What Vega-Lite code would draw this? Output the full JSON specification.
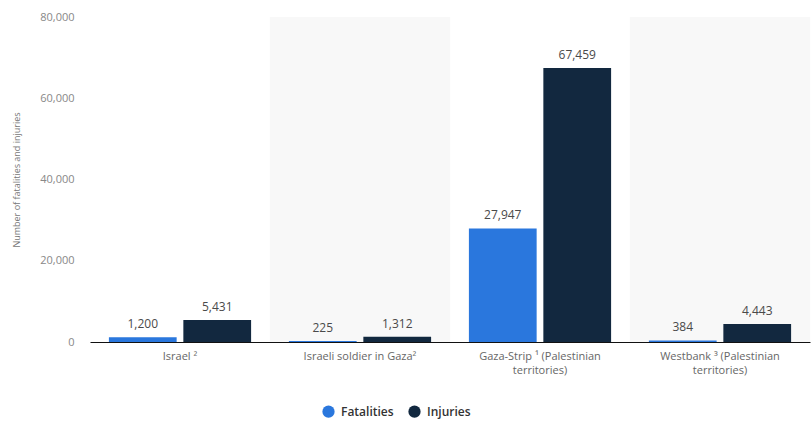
{
  "$schema": "https://vega.github.io/schema/vega-lite/v6.json",
  "description": "Fatalities and injuries by region, grouped bars with alternating column shading",
  "autosize": {"type": "none"},
  "width": 720,
  "height": 325,
  "padding": {"left": 90, "top": 17, "right": 2, "bottom": 79},
  "background": "#ffffff",
  "config": {
    "font": "Open Sans",
    "view": {"stroke": null}
  },
  "datasets": {
    "stats": [
      {"region": "Israel", "type": "Fatalities", "count": 1200},
      {"region": "Israel", "type": "Injuries", "count": 5431},
      {"region": "Soldiers", "type": "Fatalities", "count": 225},
      {"region": "Soldiers", "type": "Injuries", "count": 1312},
      {"region": "Gaza", "type": "Fatalities", "count": 27947},
      {"region": "Gaza", "type": "Injuries", "count": 67459},
      {"region": "Westbank", "type": "Fatalities", "count": 384},
      {"region": "Westbank", "type": "Injuries", "count": 4443}
    ],
    "shaded": [
      {"region": "Soldiers"},
      {"region": "Westbank"}
    ]
  },
  "encoding": {
    "x": {
      "field": "region",
      "type": "nominal",
      "sort": ["Israel", "Soldiers", "Gaza", "Westbank"],
      "scale": {"paddingInner": 0.21, "paddingOuter": 0.105},
      "axis": {
        "title": null,
        "labelAngle": 0,
        "ticks": false,
        "domainColor": "#111111",
        "domainWidth": 1.2,
        "labelFontSize": 11,
        "labelColor": "#666666",
        "labelPadding": 8,
        "labelLineHeight": 14,
        "labelExpr": "datum.value == 'Israel' ? 'Israel ²' : datum.value == 'Soldiers' ? 'Israeli soldier in Gaza²' : datum.value == 'Gaza' ? ['Gaza-Strip ¹ (Palestinian', 'territories)'] : ['Westbank ³ (Palestinian', 'territories)']"
      }
    }
  },
  "layer": [
    {
      "data": {"name": "shaded"},
      "mark": {"type": "bar", "color": "#f8f8f8", "width": {"band": 1.2676}},
      "encoding": {
        "y": {
          "datum": 80000,
          "type": "quantitative",
          "scale": {"domain": [0, 80000]},
          "axis": {
            "title": "Number of fatalities and injuries",
            "titleFontSize": 9,
            "titleFontWeight": "normal",
            "titleColor": "#777777",
            "titlePadding": 18,
            "values": [0, 20000, 40000, 60000, 80000],
            "labelExpr": "format(datum.value, ',')",
            "domain": false,
            "ticks": false,
            "labelFontSize": 11,
            "labelColor": "#888888",
            "labelPadding": 16,
            "gridColor": "#cccccc",
            "gridDash": [1, 2],
            "gridWidth": 1
          }
        },
        "y2": {"datum": 0}
      }
    },
    {
      "data": {"name": "stats"},
      "mark": {"type": "bar"},
      "encoding": {
        "xOffset": {"field": "type", "type": "nominal", "scale": {"paddingInner": 0.09}},
        "y": {"field": "count", "type": "quantitative"},
        "color": {
          "field": "type",
          "type": "nominal",
          "scale": {"domain": ["Fatalities", "Injuries"], "range": ["#2a77dd", "#12283f"]},
          "legend": {
            "title": null,
            "orient": "none",
            "direction": "horizontal",
            "legendX": 232,
            "legendY": 388,
            "symbolType": "circle",
            "symbolSize": 150,
            "symbolStrokeWidth": 0,
            "labelFontSize": 12,
            "labelFontWeight": 600,
            "labelColor": "#333333",
            "columnPadding": 14,
            "labelOffset": 6
          }
        }
      }
    },
    {
      "data": {"name": "stats"},
      "mark": {"type": "text", "baseline": "bottom", "dy": -6, "fontSize": 12, "fontWeight": 500, "color": "#4a4a4a"},
      "encoding": {
        "xOffset": {"field": "type", "type": "nominal"},
        "y": {"field": "count", "type": "quantitative"},
        "text": {"field": "count", "type": "quantitative", "format": ","}
      }
    }
  ]
}
